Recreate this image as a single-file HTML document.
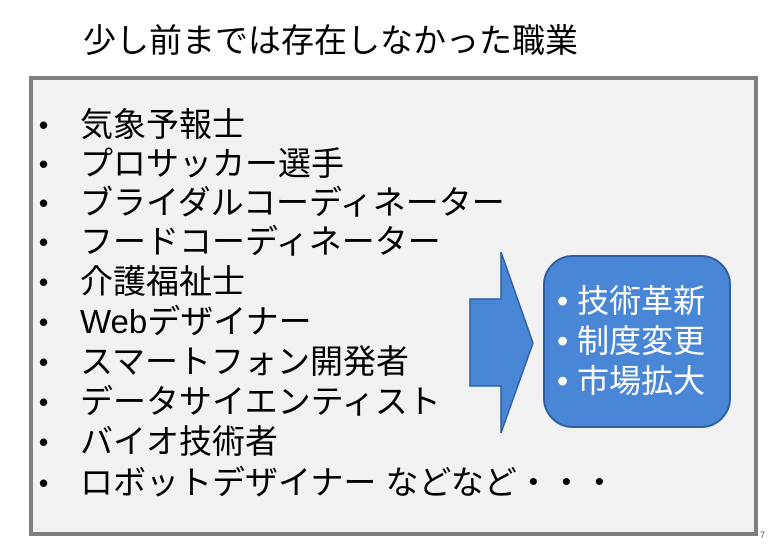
<!DOCTYPE html>
<html><head><meta charset="utf-8"><style>
body{margin:0;width:773px;height:545px;background:#fff;position:relative;overflow:hidden;font-family:"Liberation Sans","Noto Sans CJK JP",sans-serif}
.t{position:absolute;left:83px;top:21px;font-size:33px;line-height:40px;color:#000}
.box{position:absolute;left:29px;top:76px;width:721px;height:452px;background:#f2f2f2;border:4px solid #7f7f7f}
.li{position:absolute;left:0;font-size:33px;line-height:40px;color:#000;white-space:nowrap}
.li b{position:absolute;left:6px;font-weight:bold;font-size:26px}
.li span{position:absolute;left:47px}
.rb{position:absolute;left:543px;top:255px;width:188px;height:173px;background:#4a86d6;border:2px solid #2f5f9f;border-radius:30px;box-sizing:border-box;color:#fff;font-size:32px;line-height:40px;padding:24px 0 0 12px;white-space:nowrap}
.n{position:absolute;left:760px;top:530px;font-size:9px;color:#555}
</style></head><body>
<div class="t">少し前までは存在しなかった職業</div>
<div class="box">
<div class="li" style="top:25px"><b>•</b><span>気象予報士</span></div>
<div class="li" style="top:64px"><b>•</b><span>プロサッカー選手</span></div>
<div class="li" style="top:103px"><b>•</b><span>ブライダルコーディネーター</span></div>
<div class="li" style="top:142px"><b>•</b><span>フードコーディネーター</span></div>
<div class="li" style="top:182px"><b>•</b><span>介護福祉士</span></div>
<div class="li" style="top:222px"><b>•</b><span>Webデザイナー</span></div>
<div class="li" style="top:262px"><b>•</b><span>スマートフォン開発者</span></div>
<div class="li" style="top:302px"><b>•</b><span>データサイエンティスト</span></div>
<div class="li" style="top:342px"><b>•</b><span>バイオ技術者</span></div>
<div class="li" style="top:383px"><b>•</b><span>ロボットデザイナー などなど・・・</span></div>
</div>
<svg style="position:absolute;left:0;top:0" width="773" height="545"><polygon points="470,299 501,299 501,252 533,343 501,433 501,386 470,386" fill="#4a86d6" stroke="#2f5f9f" stroke-width="1.5"/></svg>
<div class="rb">• 技術革新<br>• 制度変更<br>• 市場拡大</div>
<div class="n">7</div>
</body></html>
